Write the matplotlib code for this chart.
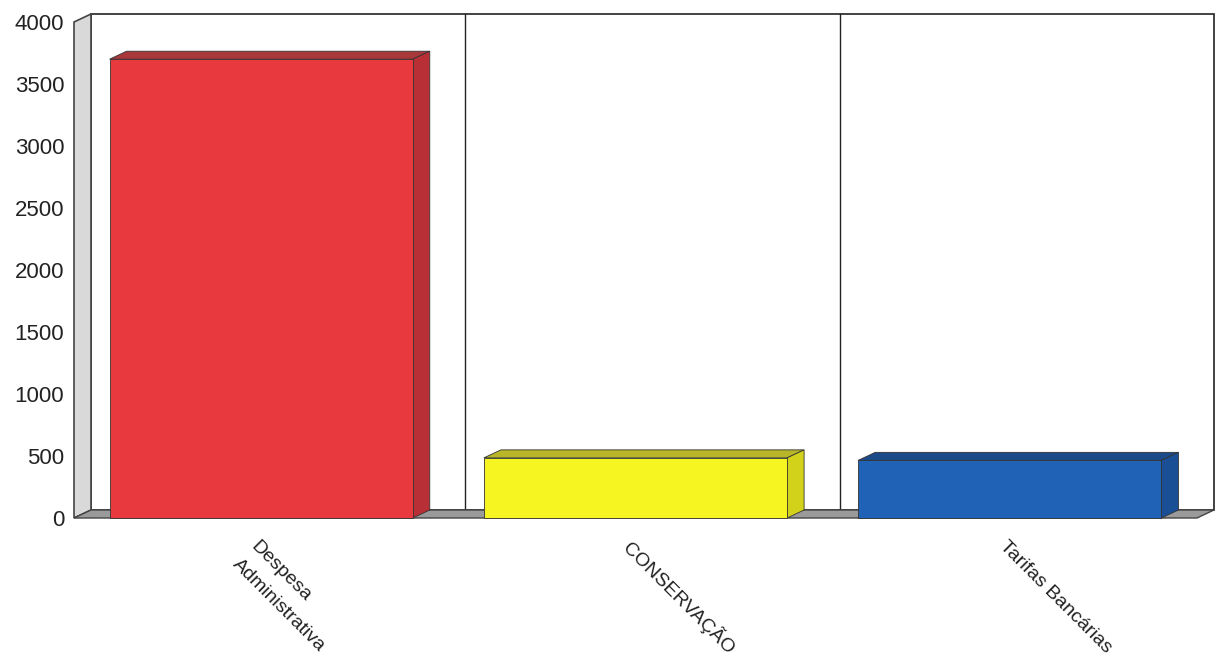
import matplotlib
matplotlib.use("Agg")
import matplotlib.pyplot as plt
from matplotlib.patches import Polygon, Rectangle

plt.rcParams['font.family'] = ['Liberation Sans', 'DejaVu Sans']

# data
categories = ['Despesa\nAdministrativa', 'CONSERVAÇÃO', 'Tarifas Bancárias']
values = [3700, 485, 465]
yticks = [0, 500, 1000, 1500, 2000, 2500, 3000, 3500, 4000]

front_colors = ['#e8393f', '#f6f522', '#1f62b6']
side_colors = ['#b83035', '#d2d21a', '#1a4f96']
top_colors = ['#a8383a', '#b8b628', '#1a4a88']

W, H = 1217, 665
fig = plt.figure(figsize=(W / 100, H / 100), dpi=100)

# front plane of the 3d box, in pixels
left_px, right_px, bottom_px, top_px = 74, 1197, 518, 22
ax = fig.add_axes([left_px / W, (H - bottom_px) / H,
                   (right_px - left_px) / W, (bottom_px - top_px) / H])
ax.set_xlim(-0.5, len(categories) - 0.5)
ax.set_ylim(0, 4000)

# depth of the 3d effect (pixels -> data units)
DX_PX, DY_PX = 17, 8
dx = DX_PX * len(categories) / (right_px - left_px)
dy = DY_PX * 4000 / (bottom_px - top_px)

x0, x1 = -0.5, len(categories) - 0.5
ymax = 4000
edge = '#333333'

# back wall
ax.add_patch(Rectangle((x0 + dx, dy), x1 - x0, ymax, facecolor='white',
                       edgecolor='#222222', lw=1.2, clip_on=False, zorder=1))
# category dividers on back wall
for i in range(1, len(categories)):
    ax.plot([i - 0.5 + dx, i - 0.5 + dx], [dy, ymax + dy], color='#222222',
            lw=1.0, clip_on=False, zorder=1.5)
# left wall
ax.add_patch(Polygon([(x0, 0), (x0 + dx, dy), (x0 + dx, ymax + dy), (x0, ymax)],
                     facecolor='#d9d9d9', edgecolor='#444444', lw=1.2,
                     clip_on=False, zorder=2))
# floor
ax.add_patch(Polygon([(x0, 0), (x1, 0), (x1 + dx, dy), (x0 + dx, dy)],
                     facecolor='#9a9a9a', edgecolor='#444444', lw=1.0,
                     clip_on=False, zorder=2))

# bars
bw = 0.81
for i, v in enumerate(values):
    xl, xr = i - bw / 2, i + bw / 2
    ax.add_patch(Polygon([(xl, v), (xr, v), (xr + dx, v + dy), (xl + dx, v + dy)],
                         facecolor=top_colors[i], edgecolor=edge, lw=0.6,
                         clip_on=False, zorder=3))
    ax.add_patch(Polygon([(xr, 0), (xr + dx, dy), (xr + dx, v + dy), (xr, v)],
                         facecolor=side_colors[i], edgecolor=edge, lw=0.6,
                         clip_on=False, zorder=3))
    ax.bar(i, v, width=bw, color=front_colors[i], edgecolor=edge, lw=0.6,
           clip_on=False, zorder=4)

for s in ax.spines.values():
    s.set_visible(False)
ax.set_facecolor('none')
ax.set_yticks(yticks)
ax.set_yticklabels([str(t) for t in yticks], fontsize=16, color='#222222')
ax.tick_params(axis='y', length=0, pad=7)
ax.set_xticks([])

# rotated category labels, first line starts just below each bar
renderer = fig.canvas.get_renderer()
for i, lab in enumerate(categories):
    w = 0
    for line in lab.split('\n'):
        t = fig.text(0, 0, line, fontsize=14)
        w = max(w, t.get_window_extent(renderer).width)
        t.remove()
    xs, ys = ax.transData.transform((i, 0))
    xs -= 2
    ys = H - 538
    d = 0.7071
    fig.text((xs + w / 2 * d) / W, (ys - w / 2 * d) / H, lab, fontsize=14,
             rotation=-45, rotation_mode='anchor', ha='center', va='top',
             multialignment='left', color='#222222', linespacing=1.6)

fig.savefig('out.png', dpi=100)
